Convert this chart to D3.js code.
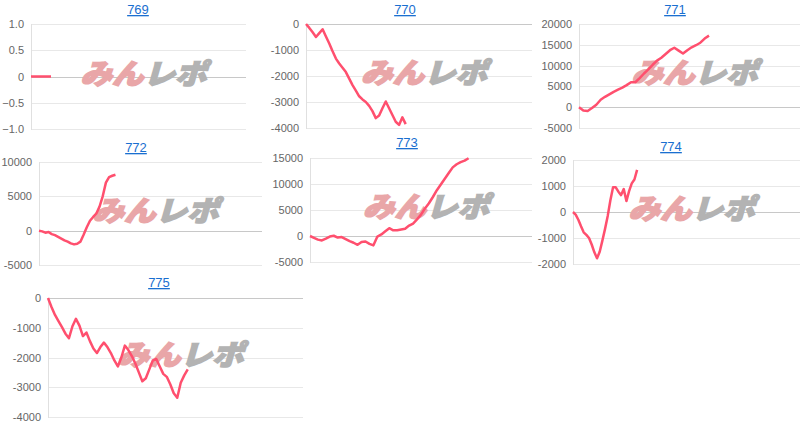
<!DOCTYPE html>
<html>
<head>
<meta charset="utf-8">
<script src="https://cdn.jsdelivr.net/npm/d3@7"></script>
<style>
  body { margin: 0; background: #fff; }
  svg { display: block; }
  .tick-label { font-family: "Liberation Sans", Arial, sans-serif; font-size: 11px; fill: #666; }
  .title { font-family: "Liberation Sans", Arial, sans-serif; font-size: 13px; fill: #1a6fd0; text-decoration: underline; }
  .wm { font-family: "Noto Sans CJK JP", sans-serif; font-weight: 900; font-size: 28px; }
</style>
</head>
<body>
<script>
// machine numbers
var ids = ['769', '770', '771', '772', '773', '774', '775'];

// cumulative difference per machine, one value per step
var s769 = [0, 0, 0, 0, 0];
var s770 = [0, -150, -320, -500, -350, -200, -480, -750, -1050, -1330, -1520, -1680, -1850, -2100, -2350,
  -2560, -2780, -2900, -3000, -3150, -3350, -3620, -3520, -3240, -2980, -3240, -3500, -3760, -3880, -3590, -3850];
var s771 = [0, -800, -900, -200, 600, 1800, 2500, 3100, 3700, 4200, 4700, 5300, 6000, 6000, 7000,
  8100, 9100, 10200, 11200, 11900, 12800, 13700, 14300, 13600, 12900, 13700, 14400, 14900, 15500, 16500, 17200];
var s772 = [0, -100, -300, -200, -500, -650, -900, -1150, -1400, -1600, -1850, -2000, -1900, -1600, -600,
  500, 1450, 2000, 2500, 3500, 5000, 7000, 7800, 8000, 8150];
var s773 = [0, -350, -700, -850, -500, -100, 50, -300, -200, -600, -1000, -1300, -1700, -1150, -1050,
  -1500, -1800, -100, 300, 900, 1500, 1100, 1100, 1250, 1400, 2000, 2400, 3200, 4100, 5300,
  6300, 7500, 8800, 9900, 11000, 12100, 13200, 13800, 14200, 14500, 14950];
var s774 = [0, -100, -300, -550, -780, -880, -1000, -1250, -1550, -1780, -1530, -1100, -650, -150, 450,
  950, 950, 780, 650, 880, 420, 800, 1100, 1250, 1620];
var s775 = [0, -300, -570, -780, -980, -1200, -1350, -950, -700, -930, -1280, -1160, -1450, -1700, -1850,
  -1650, -1500, -1650, -1850, -2100, -2300, -2000, -1600, -1750, -1950, -2200, -2500, -2800, -2700, -2400,
  -2100, -2050, -2300, -2550, -2650, -2900, -3200, -3350, -2850, -2600, -2400];

// y axis ticks per machine
var t769 = [-1, -0.5, 0, 0.5, 1];
var t770 = [-4000, -3000, -2000, -1000, 0];
var t771 = [-5000, 0, 5000, 10000, 15000, 20000];
var t772 = [-5000, 0, 5000, 10000];
var t773 = [-5000, 0, 5000, 10000, 15000];
var t774 = [-2000, -1000, 0, 1000, 2000];
var t775 = [-4000, -3000, -2000, -1000, 0];

var series = [s769, s770, s771, s772, s773, s774, s775];
var tickSets = [t769, t770, t771, t772, t773, t774, t775];

// panel placement (pixels) and x domain length
var layout = [
  { left: 31,  right: 246, top: 24,  bottom: 129, tx: 138, ty: 14,  xMax: 43, fmt: function(d) { return d === 0 ? '0' : d3.format('.1f')(d); } },
  { left: 306, right: 532, top: 24,  bottom: 128, tx: 405, ty: 14,  xMax: 68 },
  { left: 579, right: 800, top: 24,  bottom: 128, tx: 675, ty: 14,  xMax: 51 },
  { left: 39,  right: 262, top: 162, bottom: 265, tx: 136, ty: 152, xMax: 70 },
  { left: 310, right: 532, top: 158, bottom: 262, tx: 407, ty: 147, xMax: 56 },
  { left: 573, right: 800, top: 160, bottom: 264, tx: 671, ty: 151, xMax: 85 },
  { left: 48,  right: 303, top: 298, bottom: 417, tx: 159, ty: 287, xMax: 73 }
];

var svg = d3.select('body')
  .append('svg')
  .attr('width', 800)
  .attr('height', 425);

layout.forEach(function(p, i) {
  var data = series[i];
  var ticks = tickSets[i];
  var fmt = p.fmt || function(d) { return String(d); };

  var x = d3.scaleLinear().domain([0, p.xMax]).range([p.left, p.right]);
  var y = d3.scaleLinear().domain(d3.extent(ticks)).range([p.bottom, p.top]);

  var g = svg.append('g');

  // gridlines
  g.selectAll('line.grid')
    .data(ticks)
    .enter().append('line')
      .attr('x1', p.left)
      .attr('x2', p.right)
      .attr('y1', function(d) { return Math.round(y(d)) + 0.5; })
      .attr('y2', function(d) { return Math.round(y(d)) + 0.5; })
      .style('stroke', function(d) { return d === 0 ? '#c8c8c8' : '#e8e8e8'; })
      .style('stroke-width', 1);

  // left axis line
  g.append('line')
    .attr('x1', p.left + 0.5)
    .attr('x2', p.left + 0.5)
    .attr('y1', p.top)
    .attr('y2', p.bottom + 1)
    .style('stroke', '#e0e0e0');

  // tick labels
  g.selectAll('text.tick-label')
    .data(ticks)
    .enter().append('text')
      .attr('class', 'tick-label')
      .attr('x', p.left - 7)
      .attr('y', function(d) { return y(d) + 4; })
      .style('text-anchor', 'end')
      .text(fmt);

  // watermark
  var cx = (p.left + p.right) / 2 + 5;
  var cy = (p.top + p.bottom) / 2 + 7;
  var wm = g.append('text')
    .attr('class', 'wm')
    .attr('transform', 'translate(' + cx + ',' + cy + ') skewX(-16)')
    .attr('text-anchor', 'middle')
    .attr('textLength', 126)
    .attr('lengthAdjust', 'spacingAndGlyphs');
  wm.append('tspan').style('fill', '#e9a6a8').style('stroke', '#e9a6a8').style('stroke-width', 1.6).text('みん');
  wm.append('tspan').style('fill', '#b3b3b3').style('stroke', '#b3b3b3').style('stroke-width', 1.6).text('レポ');

  // series line
  var line = d3.line()
    .x(function(d, k) { return x(k); })
    .y(function(d) { return y(d); });

  g.append('path')
    .datum(data)
    .attr('d', line)
    .style('fill', 'none')
    .style('stroke', '#ff4f6e')
    .style('stroke-width', 2.5)
    .style('stroke-linejoin', 'round');

  // title
  g.append('text')
    .attr('class', 'title')
    .attr('x', p.tx)
    .attr('y', p.ty)
    .style('text-anchor', 'middle')
    .text(ids[i]);
});
</script>
</body>
</html>
